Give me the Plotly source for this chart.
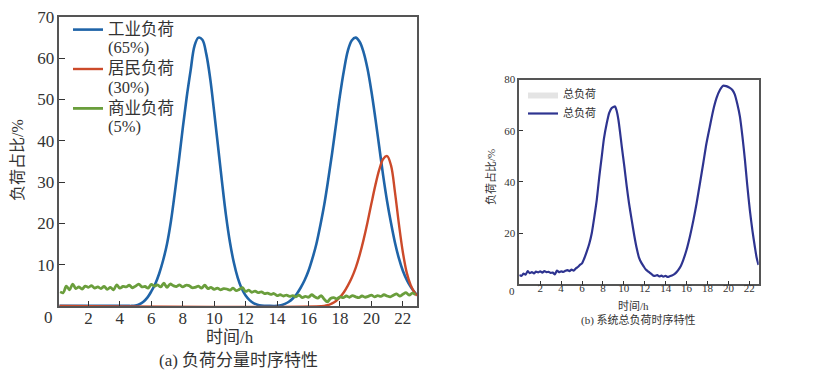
import plotly.graph_objects as go

# ---------------- data ----------------
# (a) component loads
ind_x = [0.15, 4.5, 4.75, 5.0, 5.25, 5.5, 5.75, 6.0, 6.25, 6.5, 6.75, 7.0, 7.25, 7.5, 7.75,
         8.0, 8.25, 8.5, 8.75, 9.0, 9.25, 9.5, 9.75, 10.0, 10.25, 10.5, 10.75, 11.0, 11.25,
         11.5, 11.75, 12.0, 12.25, 12.5, 12.75, 13.0, 13.5, 14.0, 14.25, 14.5, 14.75, 15.0,
         15.25, 15.5, 15.75, 16.0, 16.25, 16.5, 16.75, 17.0, 17.25, 17.5, 17.75, 18.0, 18.25,
         18.5, 18.75, 19.0, 19.25, 19.5, 19.75, 20.0, 20.25, 20.5, 20.75, 21.0, 21.25, 21.5,
         21.75, 22.0, 22.25, 22.5, 22.75, 22.9]
ind_y = [0, 0, 0, 0.1, 0.4, 1.0, 2.0, 3.5, 5.3, 7.8, 11, 15, 20.5, 27.5, 35,
         43, 50.5, 57, 63, 65, 64.5, 61, 55, 47, 38.5, 30, 22, 15.5, 10.5,
         6.8, 4.2, 2.5, 1.4, 0.7, 0.3, 0.1, 0, 0, 0.15, 0.5, 1.0, 1.8,
         2.9, 4.4, 6.2, 8.5, 11.5, 15, 19.5, 24.5, 30.5, 37, 44, 51, 57,
         61.8, 64.3, 65, 64, 61.5, 57.5, 52, 45.5, 38.5, 31.5, 25.3, 20, 15.3,
         11.5, 8.5, 6.3, 4.6, 3.3, 2.7]

res_x = [0.15, 17.0, 17.25, 17.5, 17.75, 18.0, 18.25, 18.5, 18.75, 19.0, 19.25, 19.5, 19.75,
         20.0, 20.25, 20.5, 20.75, 21.0, 21.25, 21.5, 21.75, 22.0, 22.25, 22.5, 22.75, 22.9]
res_y = [0, 0, 0.2, 0.6, 1.2, 2.1, 3.3, 4.9, 6.8, 9.2, 12.3, 16, 20.2,
         24.8, 29.2, 33.0, 35.6, 36.3, 34.0, 27.5, 19.8, 13.0, 8.0, 5.0, 3.2, 2.5]

com_x = [round(0.2 + 0.2 * i, 1) for i in range(114)]
com_y = [3.4, 3.2, 4.8, 3.9, 5.3, 4.2, 4.6, 4.1, 4.8, 4.5, 4.9, 4.3, 4.6, 4.2, 4.7,
         4.0, 4.5, 3.9, 5.1, 4.3, 4.7, 4.6, 5.0, 4.4, 4.8, 5.3, 4.6, 4.7, 4.3, 5.2,
         4.8, 5.1, 4.6, 5.5, 4.5, 5.3, 4.9, 4.7, 5.1, 4.6, 5.0, 4.9, 4.4, 4.5, 4.8,
         4.3, 5.0, 4.2, 4.5, 4.0, 4.3, 3.9, 4.2, 4.1, 3.8, 4.3, 3.7, 4.0, 4.4, 3.5,
         3.8, 3.3, 3.6, 3.2, 3.4, 3.0, 3.1, 2.8, 3.0, 2.5, 2.7, 2.4, 2.6, 2.3, 2.5,
         2.2, 2.6, 2.0, 2.3, 2.1, 2.7, 2.2, 1.9, 2.5, 1.6, 1.0, 1.8, 2.0, 1.7, 2.2,
         2.0, 2.4, 2.1, 2.5, 2.2, 2.0, 2.4, 2.1, 2.3, 2.6, 2.2, 2.5, 2.3, 2.7, 2.4,
         2.2, 2.6, 2.9, 2.4, 2.8, 3.2, 2.6, 3.1, 2.7]

# (b) total load
tot_x = [0.0, 0.2, 0.4, 0.6, 0.8, 1.0, 1.2, 1.4, 1.6, 1.8, 2.0, 2.2, 2.4, 2.6, 2.8, 3.0,
         3.2, 3.4, 3.6, 3.8, 4.0, 4.2, 4.4, 4.6, 4.8, 5.0, 5.2, 5.4, 5.6, 5.8, 6.0, 6.2,
         6.45, 6.7, 6.93, 7.2, 7.41, 7.65, 7.89, 8.1, 8.37, 8.6, 8.84, 9.0, 9.16, 9.3,
         9.48, 9.65, 9.8, 10.05, 10.28, 10.5, 10.75, 11.0, 11.23, 11.45, 11.71, 11.9,
         12.1, 12.34, 12.6, 12.8, 12.98, 13.2, 13.4, 13.6, 13.77, 14.0, 14.2, 14.4, 14.6,
         14.8, 15.0, 15.2, 15.45, 15.68, 16.0, 16.32, 16.65, 16.96, 17.3, 17.6, 17.9,
         18.23, 18.55, 18.87, 19.2, 19.5, 19.8, 20.14, 20.4, 20.62, 20.85, 21.1, 21.35,
         21.58, 21.8, 22.05, 22.3, 22.53, 22.7, 22.88]
tot_y = [3.7, 3.3, 4.2, 3.8, 5.2, 4.4, 4.8, 4.3, 5.0, 4.7, 5.1, 4.6, 5.2, 4.8, 4.9, 4.5,
         4.6, 3.9, 5.4, 4.8, 5.1, 4.9, 5.3, 5.6, 5.2, 5.8, 5.4, 6.2, 6.8, 7.6, 8.2, 10.0,
         12.8, 16.0, 20.0, 27.0, 33.0, 42.0, 50.0, 57.0, 63.0, 67.0, 68.9, 69.3, 69.5, 68.0,
         64.3, 59.0, 53.9, 46.0, 38.2, 31.5, 25.2, 19.0, 14.1, 10.5, 8.2, 7.0,
         5.8, 5.0, 4.2, 3.5, 3.3, 3.6, 3.1, 3.4, 3.0, 3.3, 2.9, 3.2, 3.5,
         3.9, 4.6, 5.6, 7.2, 9.5, 13.5, 18.7, 25.0, 31.7, 40.0, 47.4, 55.0,
         61.7, 68.0, 72.8, 76.0, 77.6, 77.4, 76.7, 75.8, 74.1, 70.5, 65.6, 57.5,
         48.7, 39.0, 29.1, 21.0, 14.7, 10.5, 7.6]

names_a = ["工业负荷", "居民负荷", "商业负荷"]
shares_a = ["(65%)", "(30%)", "(5%)"]
colors_a = ["#1f64a8", "#cc4a2a", "#6a9e3c"]
name_b = "总负荷"
x_ticks_a = [2, 4, 6, 8, 10, 12, 14, 16, 18, 20, 22]
y_ticks_a = [10, 20, 30, 40, 50, 60, 70]
x_ticks_b = [2, 4, 6, 8, 10, 12, 14, 16, 18, 20, 22]
y_ticks_b = [20, 40, 60, 80]

FONT = "Liberation Serif, Noto Sans CJK SC, serif"
TXT = "#333333"

fig = go.Figure()
series_a = [(ind_x, ind_y), (res_x, res_y), (com_x, com_y)]
widths_a = [2.6, 2.4, 2.8]
for (xs, ys), nm, sh, c, w in zip(series_a, names_a, shares_a, colors_a, widths_a):
    label = "<span style='font-size:16.5px'>%s<br>%s</span>" % (nm, sh)
    fig.add_trace(go.Scatter(x=xs, y=ys, mode="lines", name=label,
                             line=dict(color=c, width=w, shape="spline", smoothing=1.0),
                             xaxis="x", yaxis="y", legend="legend"))

fig.add_trace(go.Scatter(x=[None], y=[None], mode="lines",
                         name="<span style='font-size:11px'>%s</span>" % name_b, fill="toself",
                         fillcolor="#e4e4e4", line=dict(width=0, color="#e4e4e4"),
                         xaxis="x2", yaxis="y2", legend="legend2"))
fig.add_trace(go.Scatter(x=tot_x, y=tot_y, mode="lines",
                         name="<span style='font-size:11px'>%s</span>" % name_b,
                         line=dict(color="#2e3490", width=2.2, shape="spline", smoothing=0.6),
                         xaxis="x2", yaxis="y2", legend="legend2"))

axis_common = dict(showgrid=False, zeroline=False, showline=True, mirror=True,
                   linecolor="#555555", linewidth=1.5, ticks="inside",
                   tickcolor="#333333", color=TXT, ticklabeloverflow="allow")

W, H = 816, 392
OFF = 8  # default page margin of the html body


def px(x):
    return (x - OFF) / W


def py(y):
    return 1 - (y - OFF) / H


fig.update_layout(
    width=W, height=H, margin=dict(l=0, r=0, t=0, b=0, autoexpand=False),
    paper_bgcolor="white", plot_bgcolor="white",
    font=dict(family=FONT, color=TXT),
    xaxis=dict(domain=[px(59.3), px(417)], range=[0.15, 22.9], tickvals=x_ticks_a,
               ticklen=5, tickwidth=1.3, tickfont=dict(size=17, family=FONT),
               ticklabelstandoff=-4, anchor="y", **axis_common),
    yaxis=dict(domain=[py(305.9), py(17)], range=[0, 70], tickvals=y_ticks_a,
               ticklen=6, tickwidth=1.3, tickfont=dict(size=17, family=FONT),
               anchor="x", **axis_common),
    xaxis2=dict(domain=[px(519.3), px(758.7)], range=[0, 22.9], tickvals=x_ticks_b,
                ticklen=3.5, tickwidth=1, tickfont=dict(size=11, family=FONT),
                ticklabelstandoff=-7, anchor="y2", **axis_common),
    yaxis2=dict(domain=[py(284.4), py(79.5)], range=[0, 80], tickvals=y_ticks_b,
                ticklen=4, tickwidth=1, tickfont=dict(size=11, family=FONT),
                anchor="x2", **axis_common),
    legend=dict(x=px(68), y=py(14), xanchor="left", yanchor="top",
                font=dict(size=14, family=FONT, color=TXT), valign="top",
                bgcolor="rgba(0,0,0,0)", tracegroupgap=0, itemwidth=30),
    legend2=dict(x=px(523), y=py(80), xanchor="left", yanchor="top",
                 font=dict(size=8.5, family=FONT, color=TXT),
                 bgcolor="rgba(0,0,0,0)", tracegroupgap=0, itemwidth=30),
    showlegend=True,
)

ann = [
    dict(text="0", x=px(48.5), y=py(317), size=17),
    dict(text="时间/h", x=px(230), y=py(337), size=17),
    dict(text="(a) 负荷分量时序特性", x=px(238), y=py(360), size=17),
    dict(text="负荷占比/%", x=px(17), y=py(160), size=16, angle=-90),
    dict(text="0", x=px(511.7), y=py(290.7), size=11),
    dict(text="时间/h", x=px(633), y=py(305.7), size=11),
    dict(text="(b) 系统总负荷时序特性", x=px(638), y=py(320), size=11),
    dict(text="负荷占比/%", x=px(490), y=py(177), size=11, angle=-90),
]
for a in ann:
    fig.add_annotation(text=a["text"], x=a["x"], y=a["y"], xref="paper", yref="paper",
                       xanchor="center", yanchor="middle", showarrow=False,
                       textangle=a.get("angle", 0),
                       font=dict(size=a["size"], family=FONT, color=TXT))

fig.write_html("out.html")
